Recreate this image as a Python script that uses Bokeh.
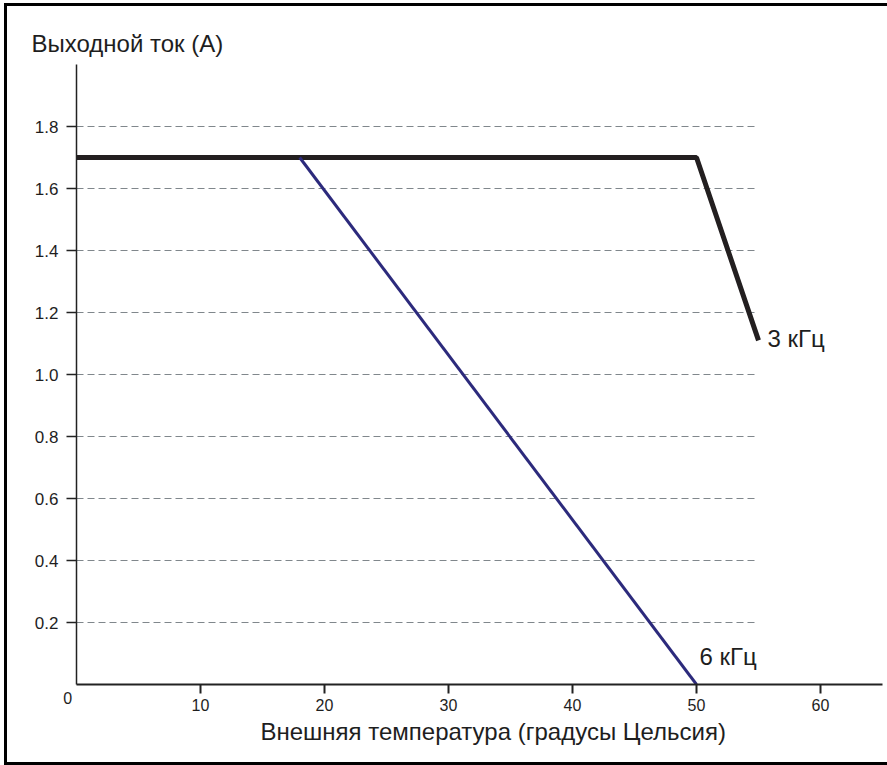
from bokeh.plotting import figure
from bokeh.layouts import column
from bokeh.models import Range1d, FixedTicker, LinearAxis, Title, Label, PrintfTickFormatter
from bokeh.embed import file_html
from bokeh.resources import INLINE

# ---- data ----
temp_3k = [0, 50, 55]
current_3k = [1.7, 1.7, 1.11]
temp_6k = [18, 50]
current_6k = [1.7, 0.0]
x_ticks = [10, 20, 30, 40, 50, 60]
y_ticks = [0.2, 0.4, 0.6, 0.8, 1.0, 1.2, 1.4, 1.6, 1.8]
origin_tick = [0]
y_title = "Выходной ток (А)"
x_title = "Внешняя температура (градусы Цельсия)"
label_3k = "3 кГц"
label_6k = "6 кГц"
origin_label = "0" + "\u00a0" * 4
grid_end = 55

FONT = "Liberation Sans"
TXT = "#1e1e1e"

p = figure(width=880, height=756,
           x_range=Range1d(0, 65), y_range=Range1d(0, 2.0),
           output_backend="svg", toolbar_location=None,
           min_border_left=69, min_border_right=5,
           min_border_top=58, min_border_bottom=78)
p.outline_line_color = None
p.background_fill_color = "white"
p.border_fill_color = "white"

# y title as plot title (top-left)
p.title.text = y_title
p.title.align = "left"
p.title.offset = -45
p.title.standoff = 15
p.title.text_font = FONT
p.title.text_font_size = "24px"
p.title.text_font_style = "normal"
p.title.text_color = TXT

# axes
for ax in (p.xaxis, p.yaxis):
    ax.axis_line_color = "#222222"
    ax.major_tick_line_color = "#222222"
    ax.major_tick_in = 0
    ax.minor_tick_line_color = None
    ax.major_label_text_font = FONT
    ax.major_label_text_color = TXT
p.xaxis.ticker = FixedTicker(ticks=x_ticks)
p.yaxis.ticker = FixedTicker(ticks=y_ticks)
p.yaxis.formatter = PrintfTickFormatter(format="%.1f")
p.xaxis.major_label_text_font_size = "16px"
p.yaxis.major_label_text_font_size = "17px"
p.xaxis.axis_line_width = 2
p.xaxis.major_tick_line_width = 2
p.xaxis.major_tick_out = 9
p.xaxis.major_label_standoff = 5
p.yaxis.axis_line_width = 1.5
p.yaxis.major_tick_line_width = 1.5
p.yaxis.major_tick_out = 10
p.yaxis.major_label_standoff = 8

# origin "0" label on an extra, line-less axis below
origin_axis = LinearAxis(ticker=FixedTicker(ticks=origin_tick),
                         major_label_overrides={0: origin_label},
                         axis_line_color=None, major_tick_line_color=None,
                         minor_tick_line_color=None,
                         major_tick_out=0, major_tick_in=0,
                         major_label_standoff=-24,
                         major_label_text_font=FONT,
                         major_label_text_font_size="16px",
                         major_label_text_color=TXT)
p.add_layout(origin_axis, "below")

# x title as a bottom title with horizontal offset
p.add_layout(Title(text=x_title, align="left", offset=184, standoff=4,
                   text_font=FONT, text_font_size="24px",
                   text_font_style="normal", text_color=TXT), "below")

# grid
p.xgrid.grid_line_color = None
p.ygrid.ticker = FixedTicker(ticks=y_ticks)
p.ygrid.grid_line_color = "#80878c"
p.ygrid.grid_line_dash = "7 4"
p.ygrid.grid_line_width = 1
p.ygrid.cross_bounds = (0, grid_end)

# curves
p.line(temp_3k, current_3k, line_width=5, line_color="#231f20")
p.line(temp_6k, current_6k, line_width=3, line_color="#2c2a7c")

# curve labels
p.add_layout(Label(x=temp_3k[-1], y=current_3k[-1], text=label_3k, x_offset=9, y_offset=2,
                   text_font=FONT, text_font_size="24px", text_color=TXT,
                   text_align="left", text_baseline="alphabetic"))
p.add_layout(Label(x=temp_6k[-1], y=current_6k[-1], text=label_6k, x_offset=3, y_offset=28,
                   text_font=FONT, text_font_size="24px", text_color=TXT,
                   text_align="left", text_baseline="alphabetic"))

page = column(p, styles={"margin-left": "4px", "margin-top": "3px",
                         "border-left": "3px solid #000", "border-top": "3px solid #000",
                         "border-bottom": "3px solid #000"})

open("out.html", "w").write(file_html(page, INLINE))
